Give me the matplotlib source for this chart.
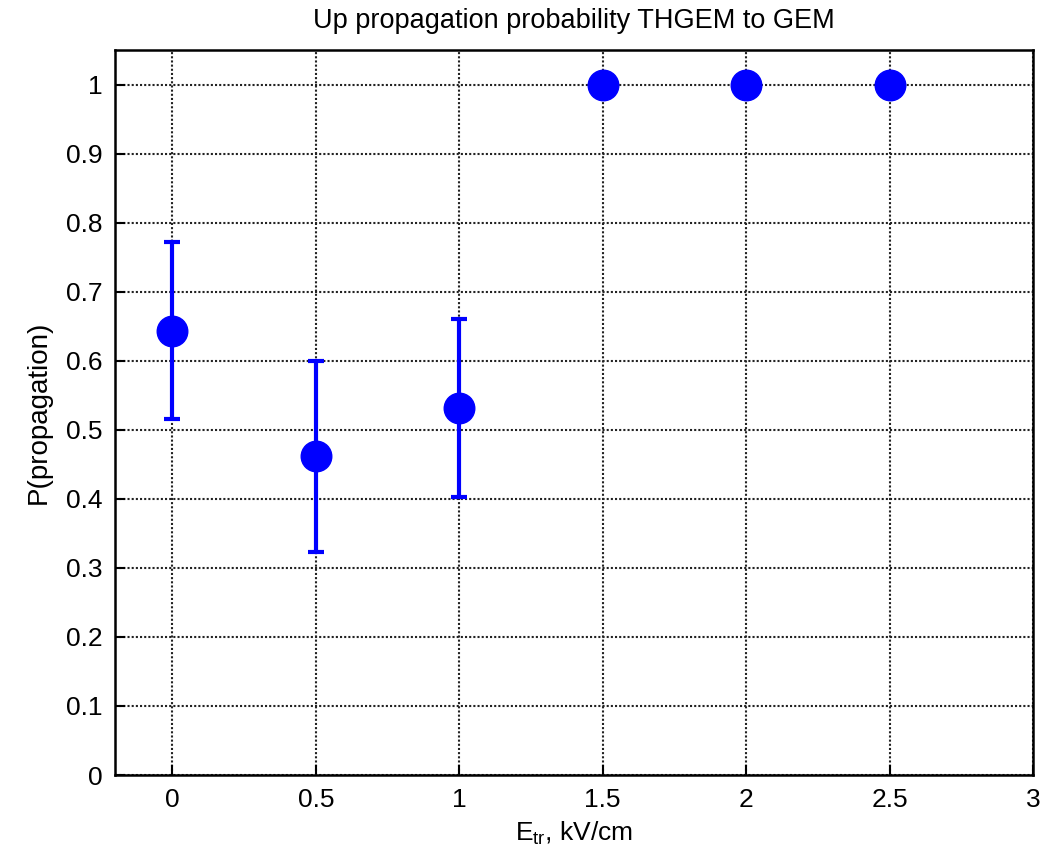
import matplotlib
matplotlib.use('Agg')
import matplotlib.pyplot as plt

# Transfer field values and measured up-propagation probabilities
e_tr = [0, 0.5, 1, 1.5, 2, 2.5]
p_prop = [0.643, 0.462, 0.532, 1.0, 1.0, 1.0]
p_low = [0.515, 0.323, 0.403, 1.0, 1.0, 1.0]
p_high = [0.772, 0.600, 0.661, 1.0, 1.0, 1.0]

plt.rcParams['font.family'] = ['Liberation Sans', 'DejaVu Sans']
plt.rcParams['mathtext.fontset'] = 'custom'
plt.rcParams['mathtext.rm'] = 'Liberation Sans'
plt.rcParams['mathtext.it'] = 'Liberation Sans'

fig = plt.figure(figsize=(10.64, 8.58), dpi=100)
ax = fig.add_axes([0.108, 0.0967, 0.863, 0.845])

err_lo = [p - lo for p, lo in zip(p_prop, p_low)]
err_hi = [hi - p for p, hi in zip(p_prop, p_high)]
# error bars only where the uncertainty is non-zero
n_err = 3
ax.errorbar(e_tr[:n_err], p_prop[:n_err],
            yerr=[err_lo[:n_err], err_hi[:n_err]],
            fmt='none', ecolor='#0000ff', elinewidth=3, capsize=6,
            capthick=3, zorder=3)
ax.plot(e_tr, p_prop, 'o', color='#0000ff', markersize=22, zorder=4)

ax.set_xlim(-0.2, 3)
ax.set_ylim(0, 1.05)
ax.set_xticks([0, 0.5, 1, 1.5, 2, 2.5, 3])
ax.set_xticklabels(['0', '0.5', '1', '1.5', '2', '2.5', '3'])
ax.set_yticks([i / 10 for i in range(11)])
ax.set_yticklabels(['0', '0.1', '0.2', '0.3', '0.4', '0.5', '0.6', '0.7',
                    '0.8', '0.9', '1'])
ax.tick_params(direction='in', length=7, width=1.5, labelsize=19, pad=9)
ax.grid(True, color='#222222', linestyle=(0, (1, 1)), linewidth=1.5)
ax.set_axisbelow(True)
for s in ax.spines.values():
    s.set_linewidth(1.8)

ax.set_title('Up propagation probability THGEM to GEM', fontsize=19.5,
             pad=16)
ax.set_xlabel(r'E$_{\mathrm{tr}}$, kV/cm', fontsize=19, labelpad=6)
ax.set_ylabel('P(propagation)', fontsize=20, labelpad=10)

fig.savefig('out.png', dpi=100)
